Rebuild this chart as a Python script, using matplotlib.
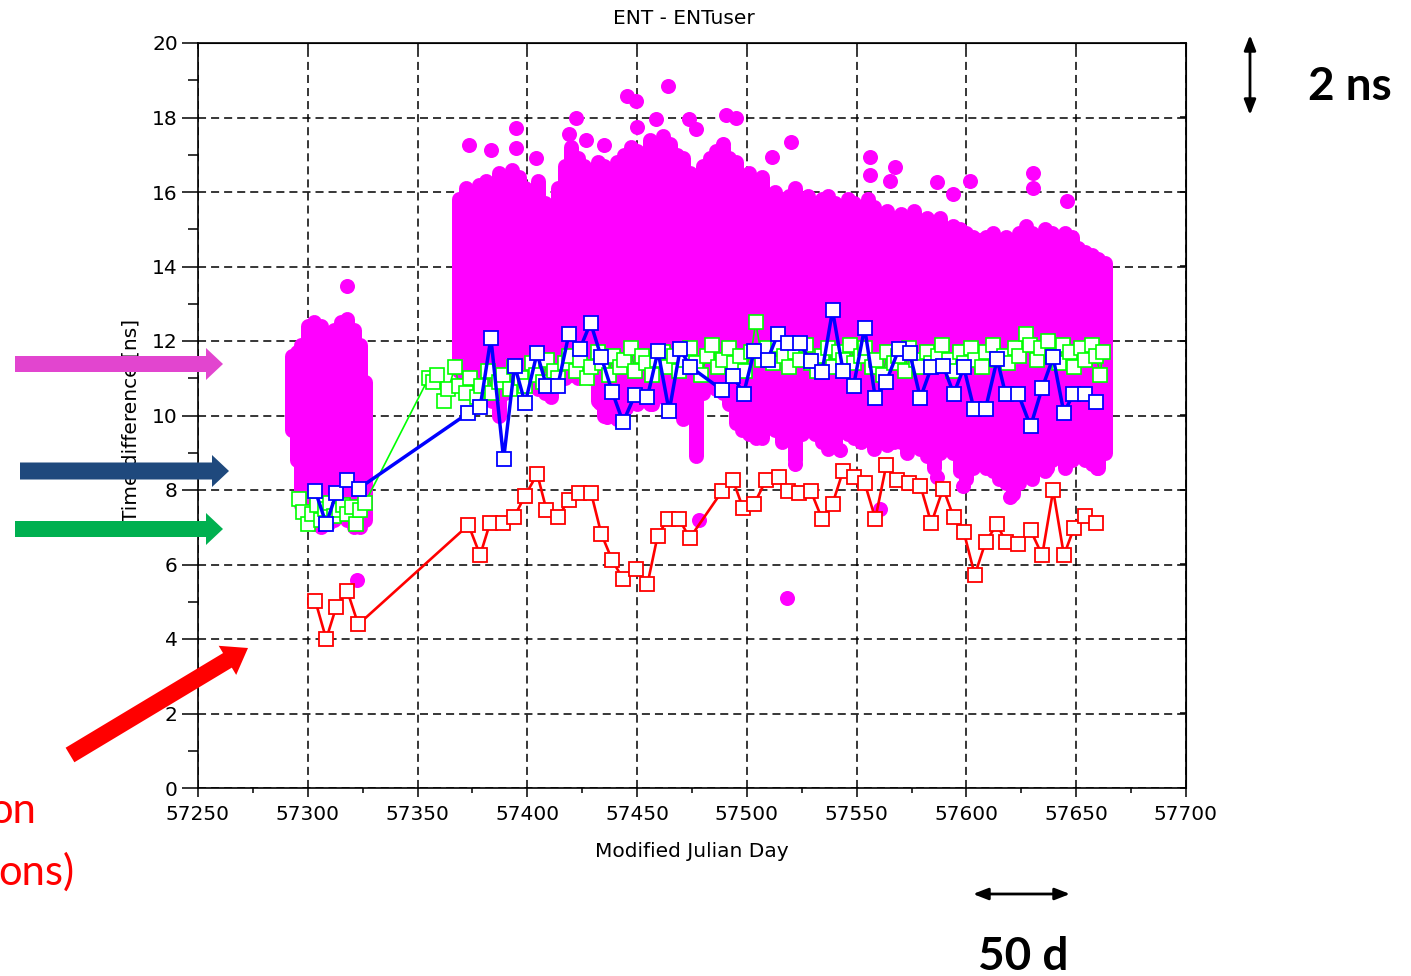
import matplotlib
matplotlib.use('Agg')
import matplotlib.pyplot as plt
from matplotlib.patches import FancyArrow

plt.rcParams['lines.scale_dashes'] = False
plt.rcParams['font.family'] = ['DejaVu Sans']

# ---------------- data ----------------
# magenta cloud: one column every ~3 days, low / high edge of the dots
cloud_day = [57293, 57295, 57297, 57300, 57303, 57306, 57309, 57312, 57315, 57318, 57321, 57324, 57326,
             57369, 57372, 57375, 57378, 57381, 57384, 57387, 57390, 57393, 57396, 57399, 57402, 57405,
             57408, 57411, 57414, 57417, 57420, 57423, 57426, 57429, 57432, 57435, 57438, 57441, 57444,
             57447, 57450, 57453, 57456, 57459, 57462, 57465, 57468, 57471, 57474, 57477, 57480, 57483,
             57486, 57489, 57492, 57495, 57498, 57501, 57504, 57507, 57510, 57513, 57516, 57519, 57522,
             57525, 57528, 57531, 57534, 57537, 57540, 57543, 57546, 57549, 57552, 57555, 57558, 57561,
             57564, 57567, 57570, 57573, 57576, 57579, 57582, 57585, 57588, 57591, 57594, 57597, 57600,
             57603, 57606, 57609, 57612, 57615, 57618, 57621, 57624, 57627, 57630, 57633, 57636, 57639,
             57642, 57645, 57648, 57651, 57654, 57657, 57660, 57663]
cloud_lo = [9.6, 8.8, 7.6, 7.2, 7.1, 7.0, 7.1, 7.2, 7.3, 7.2, 7.0, 7.0, 7.2,
            11.2, 11.0, 10.9, 11.1, 10.8, 10.4, 10.0, 10.6, 10.9, 11.0, 10.8, 11.0, 10.7,
            10.6, 10.5, 10.9, 11.0, 11.1, 11.0, 11.1, 11.0, 10.4, 10.0, 10.2, 9.9, 10.2,
            10.4, 10.3, 10.5, 10.3, 10.6, 10.5, 10.3, 10.2, 9.9, 10.5, 8.9, 10.6, 10.8,
            10.7, 10.6, 10.3, 9.8, 9.6, 9.5, 9.4, 9.4, 9.8, 9.6, 9.3, 9.5, 8.8,
            9.5, 9.7, 9.5, 9.3, 9.1, 9.2, 9.6, 9.5, 9.4, 9.3, 9.5, 9.1, 9.4,
            9.2, 9.3, 9.3, 9.0, 9.3, 9.1, 8.9, 8.6, 9.0, 9.1, 9.0, 8.5, 8.3,
            8.6, 8.8, 8.6, 8.5, 8.3, 8.2, 7.9, 8.2, 8.5, 8.3, 8.6, 8.5, 8.8,
            8.9, 8.6, 8.8, 8.9, 8.8, 8.7, 8.6, 9.0]
cloud_hi = [11.6, 11.7, 11.9, 12.4, 12.5, 12.4, 12.2, 12.3, 12.5, 12.6, 12.3, 11.9, 10.9,
            15.8, 16.1, 15.9, 16.2, 16.3, 16.1, 16.5, 16.2, 16.6, 16.4, 16.1, 15.9, 16.3,
            15.7, 15.2, 16.1, 16.7, 17.2, 16.9, 16.7, 16.4, 16.8, 16.7, 16.5, 16.8, 17.0,
            17.2, 17.1, 16.9, 17.4, 17.1, 17.5, 17.3, 17.0, 16.9, 16.5, 16.2, 16.7, 16.9,
            17.1, 17.2, 16.9, 16.8, 16.4, 16.5, 16.3, 16.4, 15.9, 16.0, 15.8, 15.9, 16.1,
            15.8, 15.9, 15.7, 15.8, 15.9, 15.7, 15.6, 15.8, 15.7, 15.5, 15.8, 15.6, 15.3,
            15.5, 15.2, 15.4, 15.2, 15.5, 15.1, 15.3, 15.1, 15.3, 14.9, 15.1, 15.0, 14.9,
            14.8, 14.7, 14.8, 14.9, 14.6, 14.8, 14.6, 14.9, 15.1, 14.9, 14.8, 15.0, 14.9,
            14.7, 14.9, 14.8, 14.5, 14.4, 14.3, 14.2, 14.1]

# isolated magenta dots at the edges of the cloud
dot_day = [57318, 57322.5, 57373.5, 57383.4, 57394.8, 57394.8, 57404, 57422, 57419, 57426.7,
           57435, 57445.6, 57449.4, 57450, 57458.5, 57463.9, 57473.7, 57476.7, 57490.4, 57495,
           57488.9, 57520, 57511.6, 57556, 57556, 57567.5, 57565, 57586.4, 57594, 57601.6,
           57630.5, 57630.5, 57645.6, 57478, 57518.3, 57522, 57560.6, 57586.5, 57598.4, 57620,
           57612, 57636.7, 57659.5, 57433, 57436.2, 57445, 57457, 57469.5, 57542.4, 57577.4]
dot_val = [13.47, 5.58, 17.26, 17.13, 17.71, 17.17, 16.9, 17.98, 17.57, 17.39,
           17.26, 18.58, 18.45, 17.74, 17.96, 18.85, 17.96, 17.7, 18.07, 18.0,
           17.3, 17.35, 16.95, 16.95, 16.46, 16.68, 16.3, 16.27, 15.95, 16.3,
           16.5, 16.1, 15.75, 7.2, 5.1, 8.7, 7.5, 8.35, 8.1, 7.8,
           8.8, 8.6, 8.6, 10.34, 9.96, 10.2, 10.3, 10.2, 9.07, 9.42]

red_day = [57303.5, 57308.4, 57313, 57318, 57323, 57373.2, 57378.5, 57383, 57389, 57394,
           57399, 57404.5, 57408.7, 57414, 57419, 57423.5, 57429, 57433.7, 57438.7, 57443.6,
           57449.7, 57454.7, 57459.3, 57464, 57469, 57474, 57488.6, 57493.6, 57498.2, 57503.3,
           57508.8, 57514.4, 57518.5, 57523.6, 57529.2, 57534.2, 57539, 57543.8, 57548.6, 57553.6,
           57558.5, 57563.5, 57568.4, 57573.7, 57579, 57584, 57589.4, 57594.2, 57598.8, 57603.8,
           57608.7, 57614, 57617.8, 57623.6, 57629.2, 57634.5, 57639.5, 57644.4, 57649, 57654,
           57658.8]
red_val = [5.01, 4.0, 4.87, 5.29, 4.39, 7.06, 6.25, 7.11, 7.11, 7.28,
           7.85, 8.43, 7.47, 7.28, 7.74, 7.93, 7.93, 6.82, 6.11, 5.61,
           5.89, 5.47, 6.76, 7.23, 7.23, 6.71, 7.96, 8.27, 7.52, 7.63,
           8.27, 8.34, 7.96, 7.93, 7.96, 7.23, 7.63, 8.51, 8.36, 8.2,
           7.23, 8.67, 8.27, 8.2, 8.12, 7.11, 8.04, 7.27, 6.87, 5.72,
           6.6, 7.09, 6.6, 6.54, 6.92, 6.25, 7.99, 6.25, 6.98, 7.31,
           7.11]

blue_day = [57303.5, 57308.4, 57313, 57318, 57323.2, 57373.2, 57378.5, 57383.4, 57389.2, 57394.2,
            57399, 57404.4, 57408.7, 57413.9, 57418.9, 57423.9, 57428.8, 57433.7, 57438.7, 57443.6,
            57449, 57454.7, 57459.5, 57464.6, 57469.6, 57474.2, 57488.6, 57493.6, 57498.5, 57503.3,
            57509.4, 57514, 57518.5, 57524, 57529.2, 57534.2, 57539, 57543.8, 57548.6, 57553.6,
            57558.5, 57563.5, 57569.2, 57574.2, 57579, 57584, 57589.4, 57594.2, 57598.8, 57603.4,
            57608.7, 57614, 57617.8, 57623.6, 57629.2, 57634.5, 57639.5, 57644.4, 57648.7, 57654,
            57658.8]
blue_val = [7.96, 7.09, 7.91, 8.26, 8.04, 10.07, 10.22, 12.08, 8.83, 11.34,
            10.33, 11.67, 10.8, 10.8, 12.18, 11.78, 12.49, 11.56, 10.63, 9.82,
            10.55, 10.5, 11.73, 10.11, 11.78, 11.31, 10.69, 11.07, 10.58, 11.73,
            11.49, 12.18, 11.94, 11.94, 11.45, 11.16, 12.82, 11.2, 10.8, 12.36,
            10.47, 10.91, 11.78, 11.67, 10.47, 11.29, 11.34, 10.58, 11.29, 10.18,
            10.18, 11.51, 10.58, 10.58, 9.71, 10.74, 11.56, 10.07, 10.58, 10.58,
            10.36]

green_day = [57296, 57298, 57300, 57302, 57304, 57306, 57308, 57310, 57312, 57314, 57316, 57318,
             57320, 57322, 57324, 57326,
             57355, 57357, 57359, 57362, 57364, 57367, 57369, 57372, 57374, 57377, 57379, 57382,
             57384, 57387, 57389, 57392, 57394, 57397, 57399, 57402, 57404, 57407, 57409, 57412,
             57414, 57417, 57419, 57422, 57424, 57427, 57429, 57432, 57434, 57437, 57439, 57442,
             57444, 57447, 57449, 57452, 57454, 57457, 57459, 57462, 57464, 57467, 57469, 57472,
             57474, 57477, 57479, 57482, 57484, 57487, 57489, 57492, 57494, 57497, 57499, 57502,
             57504, 57507, 57509, 57512, 57514, 57517, 57519, 57522, 57524, 57527, 57529, 57532,
             57534, 57537, 57539, 57542, 57544, 57547, 57549, 57552, 57554, 57557, 57559, 57562,
             57564, 57567, 57569, 57572, 57574, 57577, 57579, 57582, 57584, 57587, 57589, 57592,
             57594, 57597, 57599, 57602, 57604, 57607, 57609, 57612, 57614, 57617, 57619, 57622,
             57624, 57627, 57629, 57632, 57634, 57637, 57639, 57642, 57644, 57647, 57649, 57652,
             57654, 57657, 57659, 57661, 57662]
green_val = [7.75, 7.4, 7.1, 7.35, 7.6, 7.2, 7.5, 7.65, 7.3, 7.45, 7.6, 7.35,
             7.55, 7.1, 7.45, 7.65,
             11.0, 10.9, 11.1, 10.4, 10.7, 11.3, 10.8, 10.6, 11.0, 10.5, 10.8, 11.2,
             10.6, 10.9, 11.1, 10.7, 11.3, 11.0, 10.8, 11.4, 11.1, 10.9, 11.5, 11.2,
             11.0, 11.4, 11.6, 11.2, 11.5, 11.0, 11.3, 11.7, 11.4, 11.1, 11.6, 11.3,
             11.5, 11.8, 11.2, 11.6, 11.4, 11.1, 11.5, 11.7, 11.3, 11.6, 11.2, 11.5,
             11.8, 11.4, 11.1, 11.6, 11.9, 11.3, 11.5, 11.8, 11.4, 11.6, 11.2, 11.7,
             12.5, 11.5, 11.8, 11.4, 11.9, 11.6, 11.3, 11.7, 11.5, 11.9, 11.4, 11.2,
             11.6, 11.8, 11.3, 11.7, 11.5, 11.9, 11.4, 11.6, 11.8, 11.3, 11.5, 11.1,
             11.7, 11.4, 11.6, 11.2, 11.8, 11.5, 11.3, 11.7, 11.4, 11.6, 11.9, 11.5,
             11.2, 11.7, 11.4, 11.8, 11.5, 11.3, 11.7, 11.9, 11.5, 11.6, 11.4, 11.8,
             11.6, 12.2, 11.9, 11.5, 11.8, 12.0, 11.6, 11.4, 11.9, 11.7, 11.3, 11.8,
             11.5, 11.9, 11.6, 11.1, 11.7]

# ---------------- figure ----------------
fig = plt.figure(figsize=(14.11, 9.76), dpi=100)
ax = fig.add_axes([198 / 1411, 1 - 788 / 976, 988 / 1411, 745 / 976])

# magenta cloud (columns of overlapping round dots) + loose dots
ax.vlines(cloud_day, cloud_lo, cloud_hi, colors='#FF00FF', linewidth=10.8,
          capstyle='round', zorder=2)
ax.scatter(dot_day, dot_val, s=117, color='#FF00FF', linewidths=0, zorder=2)

ax.plot(green_day, green_val, color='#00FF00', lw=1.2, marker='s', ms=9.5,
        mfc='white', mec='#00FF00', mew=1.2, zorder=3)
ax.plot(red_day, red_val, color='#FF0000', lw=1.9, marker='s', ms=10,
        mfc='white', mec='#FF0000', mew=1.3, zorder=4)
ax.plot(blue_day, blue_val, color='#0000FF', lw=2.5, marker='s', ms=10,
        mfc='white', mec='#0000FF', mew=1.3, zorder=5)

ax.set_xlim(57250, 57700)
ax.set_ylim(0, 20)
ax.set_xticks(range(57250, 57701, 50))
ax.set_xticks(range(57275, 57700, 50), minor=True)
ax.set_yticks(range(0, 21, 2))
ax.set_yticks(range(1, 20, 2), minor=True)
ax.grid(True, which='major', color='black', lw=1.1, linestyle=(0, (5.8, 3.6)), zorder=0)
ax.set_axisbelow(True)
for sp in ax.spines.values():
    sp.set_linewidth(1.2)

ax.tick_params(axis='y', which='major', direction='out', length=11.5, width=1.1,
               labelsize=14.5, pad=3)
ax.tick_params(axis='y', which='minor', direction='out', length=7.2, width=1.1)
ax.tick_params(axis='x', which='major', direction='out', length=6.5, width=1.1,
               labelsize=14.5, pad=6)
ax.tick_params(axis='x', which='minor', direction='out', length=3.6, width=1.1)

# inward ticks on the top and right edges
top = ax.secondary_xaxis('top')
top.set_xticks(range(57250, 57701, 50))
top.tick_params(direction='in', length=4, width=1.1, labeltop=False)
right = ax.secondary_yaxis('right')
right.set_yticks(range(0, 21, 2))
right.tick_params(direction='in', length=4, width=1.1, labelright=False)

ax.set_title('ENT - ENTuser', fontsize=14.5, x=0.492, pad=14)
ax.set_xlabel('Modified Julian Day', fontsize=14.5)
ax.xaxis.set_label_coords(0.5, -0.072)
ax.set_ylabel('Time difference [ns]', fontsize=14.5)
ax.yaxis.set_label_coords(-0.058, 0.493)

# ---------------- slide annotations (pixel coordinates) ----------------
ov = fig.add_axes([0, 0, 1, 1], zorder=10)
ov.set_xlim(0, 1411)
ov.set_ylim(976, 0)
ov.axis('off')
ov.patch.set_alpha(0)

ov.add_patch(FancyArrow(15, 364, 208, 0, width=16, head_width=32, head_length=17,
                        length_includes_head=True, color='#E245CF', lw=0))
ov.add_patch(FancyArrow(20, 471, 209, 0, width=17, head_width=32, head_length=17,
                        length_includes_head=True, color='#1F497D', lw=0))
ov.add_patch(FancyArrow(15, 529, 208, 0, width=16, head_width=32, head_length=17,
                        length_includes_head=True, color='#00B050', lw=0))
ov.add_patch(FancyArrow(70, 755, 178, -107, width=17, head_width=34, head_length=24,
                        length_includes_head=True, color='#FF0000', lw=0))

# red caption, cut by the left edge as in the slide
ov.text(36, 823, 'on', color='#FF0000', fontsize=30, family='Lato', ha='right', va='baseline')
ov.text(74, 885, 'ons)', color='#FF0000', fontsize=30, family='Lato', ha='right', va='baseline')

ov.annotate('', xy=(1250, 35), xytext=(1250, 115),
            arrowprops=dict(arrowstyle='<|-|>,head_length=0.9,head_width=0.35',
                            color='black', lw=2, shrinkA=0, shrinkB=0))
ov.text(1308, 100, '2 ns', fontsize=33, fontweight='bold', family='Lato', va='baseline')

ov.annotate('', xy=(973, 894), xytext=(1070, 894),
            arrowprops=dict(arrowstyle='<|-|>,head_length=0.9,head_width=0.35',
                            color='black', lw=2, shrinkA=0, shrinkB=0))
ov.text(978, 970, '50 d', fontsize=33, fontweight='bold', family='Lato', va='baseline')

fig.savefig('out.png', dpi=100)
